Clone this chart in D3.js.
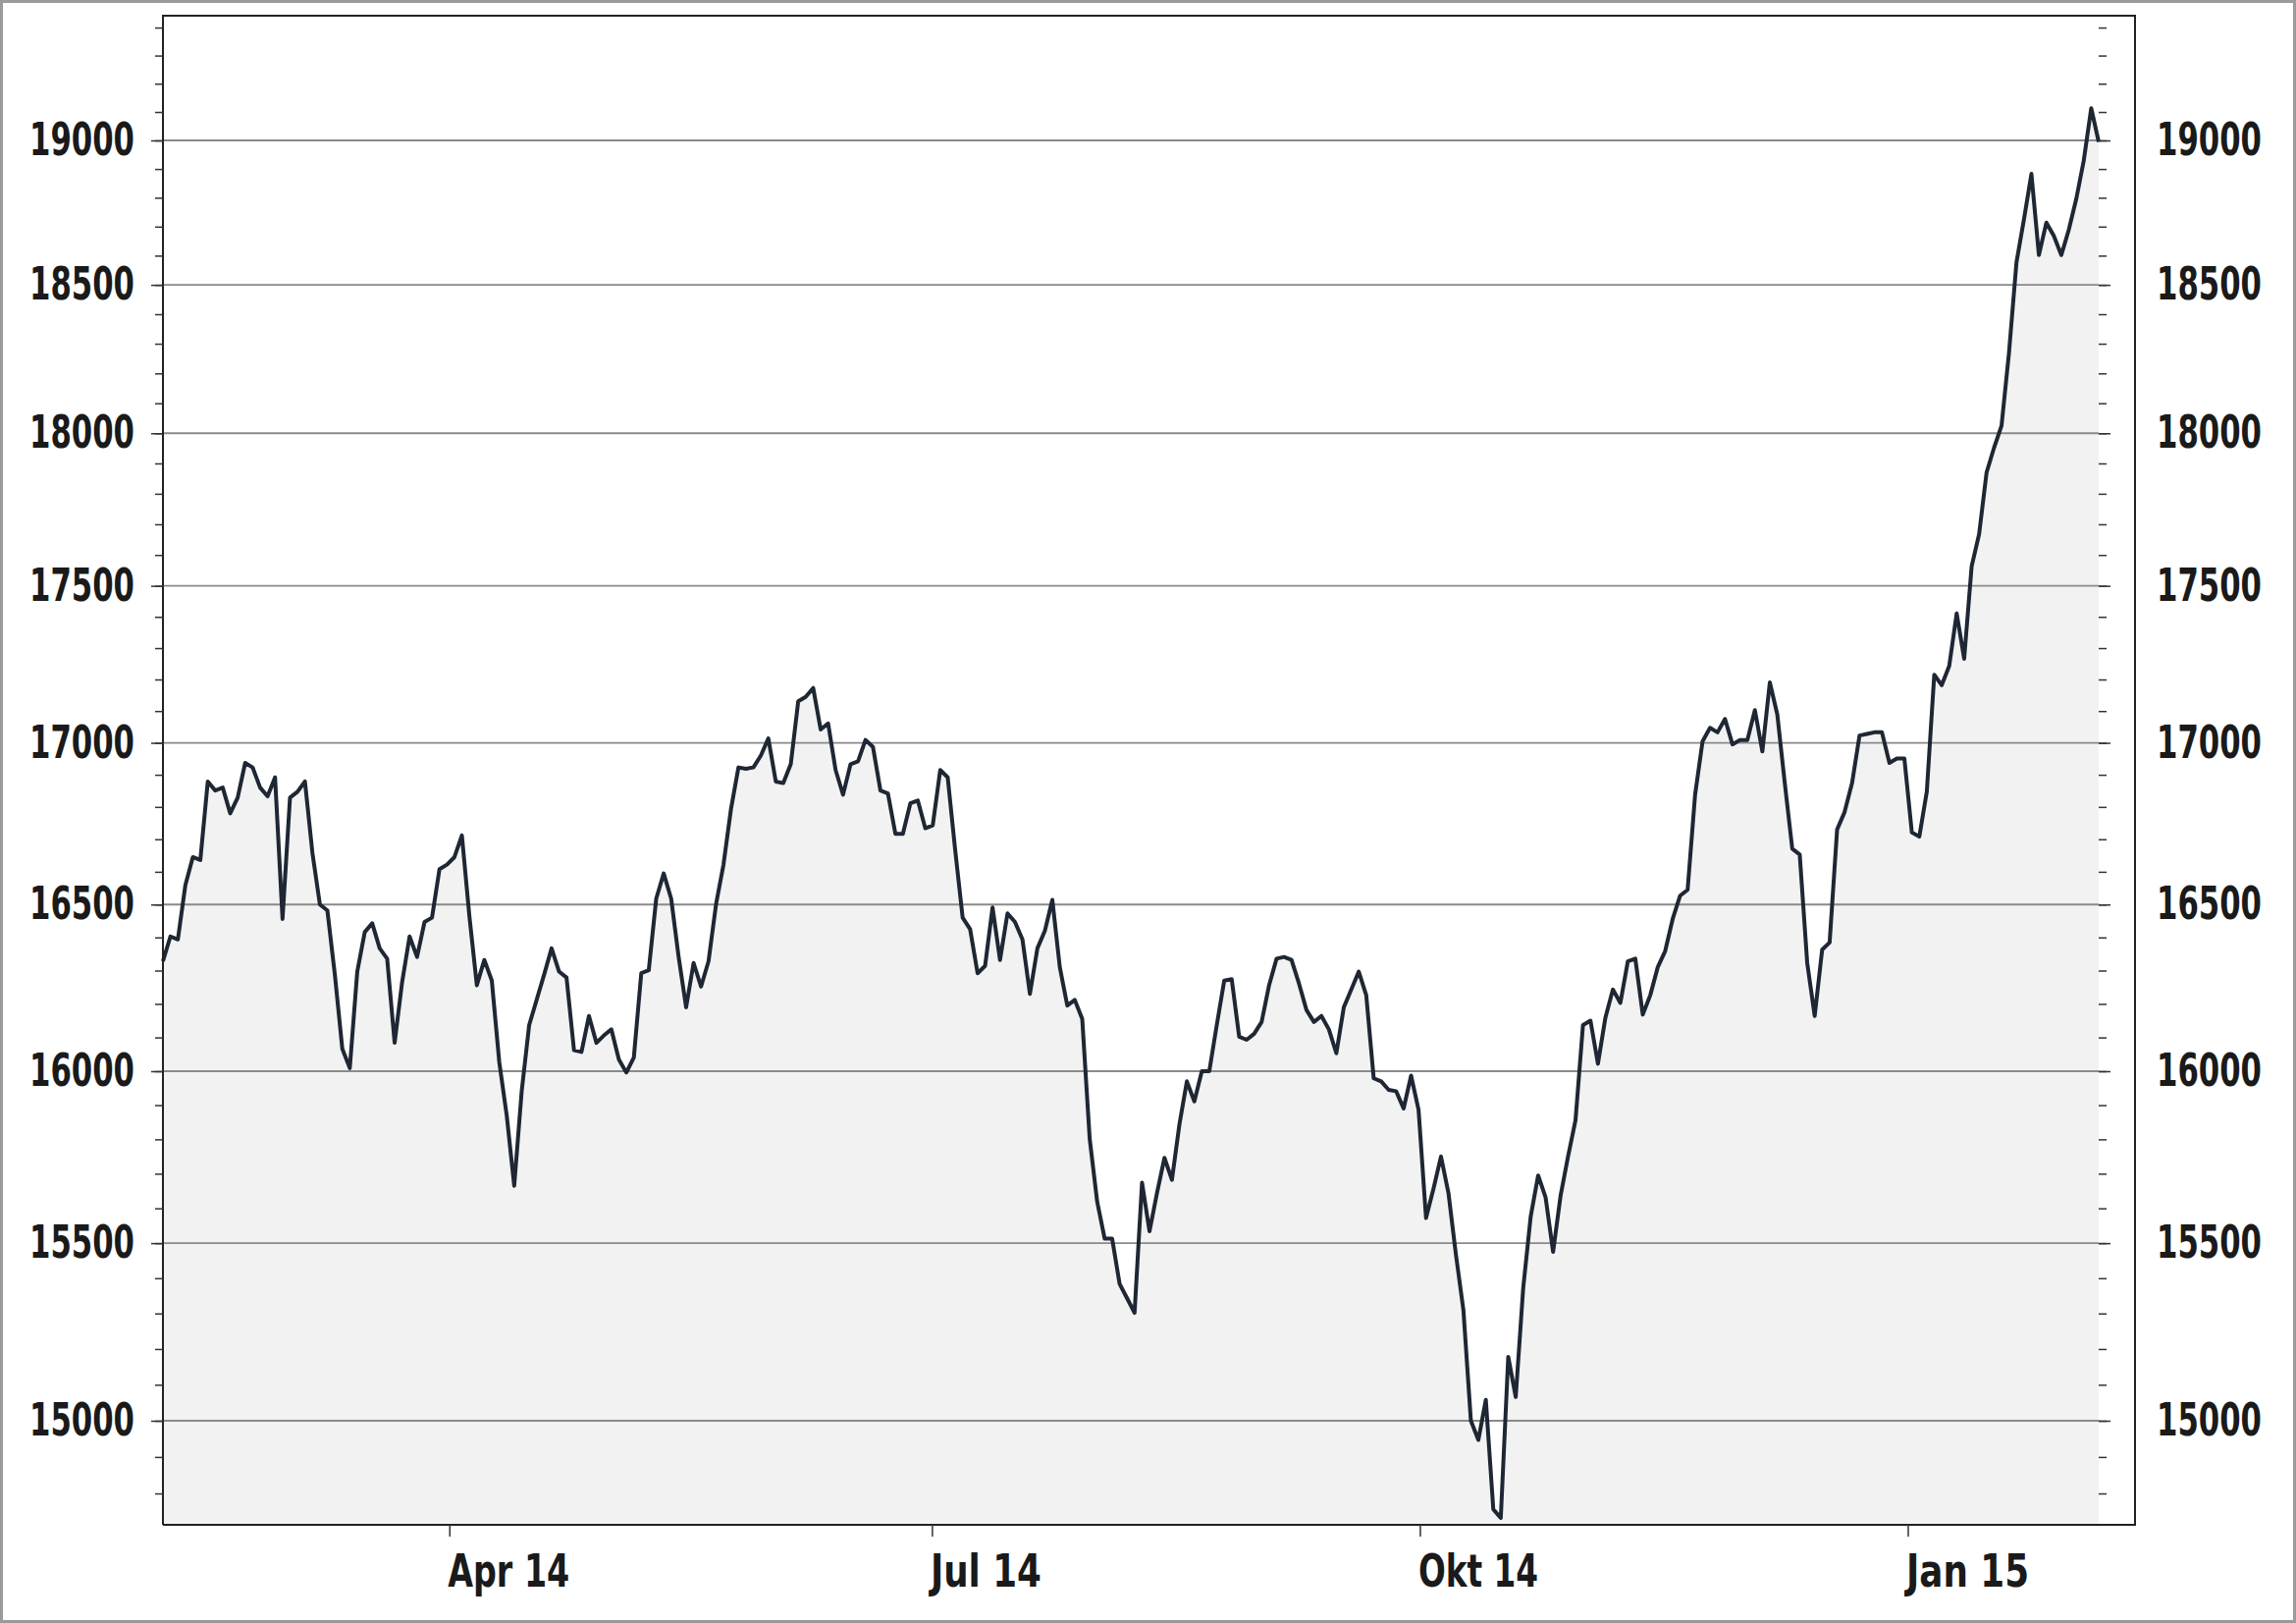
<!DOCTYPE html>
<html>
<head>
<meta charset="utf-8">
<script src="https://cdn.jsdelivr.net/npm/d3@7"></script>
<style>
  body { margin: 0; background: #fff; }
  svg text { font-family: "DejaVu Sans Condensed", "Liberation Sans", sans-serif; font-weight: bold; fill: #1a1a1a; }
</style>
</head>
<body>
<div id="chart-area"></div>
<script>
// index closes, one per trading day, 6 Feb 2014 .. 6 Feb 2015
var values = [16328,16403,16394,16559,16645,16636,16879,16851,16860,16780,16829,16937,16923,16860,16833,16892,16456,16829,16847,16879,
16658,16500,16482,16288,16066,16009,16297,16416,16443,16367,16336,16084,16265,16403,16341,16447,16460,16608,16622,16645,
16712,16465,16256,16332,16270,16027,15869,15665,15941,16137,16212,16288,16367,16297,16279,16062,16057,16164,16084,16106,
16124,16035,15996,16040,16292,16301,16518,16595,16518,16341,16190,16323,16252,16328,16500,16622,16793,16923,16919,16923,
16960,17014,16879,16874,16933,17131,17145,17173,17042,17061,16915,16838,16933,16942,17009,16987,16851,16842,16717,16717,
16811,16820,16734,16743,16915,16892,16667,16460,16425,16292,16314,16491,16332,16473,16447,16394,16230,16367,16420,16514,
16310,16195,16212,16155,15801,15619,15513,15513,15384,15343,15302,15674,15534,15644,15746,15682,15843,15970,15911,16000,
16000,16137,16270,16274,16102,16093,16111,16146,16256,16336,16341,16332,16261,16182,16146,16164,16124,16053,16190,16243,
16297,16226,15979,15970,15945,15941,15890,15987,15886,15572,15657,15750,15644,15467,15310,15000,14947,15058,14757,14733,
15178,15066,15372,15576,15695,15631,15475,15636,15750,15856,16137,16150,16022,16159,16243,16203,16328,16336,16168,16226,
16310,16359,16456,16527,16545,16838,17005,17047,17033,17075,16995,17009,17009,17103,16973,17191,17089,16874,16671,16653,
16323,16164,16363,16385,16730,16784,16874,17023,17028,17033,17033,16937,16951,16951,16721,16708,16847,17215,17182,17243,
17411,17266,17563,17668,17870,17952,18025,18270,18577,18725,18883,18602,18714,18668,18602,18689,18796,18929,19113,18995];

var majorTicks = [15000,15500,16000,16500,17000,17500,18000,18500,19000];
var xTickDates = ["2014-04-01","2014-07-01","2014-10-01","2015-01-01"];
var xTickLabels = ["Apr 14","Jul 14","Okt 14","Jan 15"];
var xLabelWidths = [124,113,122,125];

var parse = d3.timeParse("%Y-%m-%d");

var W = 2339, H = 1653;
var margin = { top: 16, left: 166, right: 201, bottom: 100 };
var plotRight = W - margin.right;  // right axis
var frameRight = 2175;
var bottom = H - margin.bottom;

var svg = d3.select("#chart-area").append("svg").attr("width", W).attr("height", H);

svg.append("rect").attr("x", 1.5).attr("y", 1.5).attr("width", W - 3).attr("height", H - 3)
	.attr("fill", "#fff").attr("stroke", "#9a9a9a").attr("stroke-width", 3);

var x = d3.scaleTime().domain([parse("2014-02-06"), parse("2015-02-06")]).range([margin.left, plotRight]);
var xi = d3.scaleLinear().domain([0, values.length - 1]).range([margin.left, plotRight]);
var y = d3.scaleLog().domain([15000, 19000]).range([1447, 143]);

var minor = d3.range(14700, 19500, 100).filter(function(v) { return y(v) >= margin.top && y(v) <= bottom; });

var area = d3.area().x(function(d, i) { return xi(i); }).y0(bottom).y1(function(d) { return y(d); });
var line = d3.line().x(function(d, i) { return xi(i); }).y(function(d) { return y(d); });
svg.append("path").datum(values).attr("d", area).attr("fill", "#f2f2f2");

// gridlines
svg.append("g").selectAll("line").data(majorTicks).enter().append("line")
	.attr("x1", margin.left).attr("x2", plotRight)
	.attr("y1", function(d) { return y(d); }).attr("y2", function(d) { return y(d); })
	.attr("stroke", "#8a8a8a").attr("stroke-width", 1.8);

svg.append("path").datum(values).attr("d", line).attr("fill", "none")
	.attr("stroke", "#1e2733").attr("stroke-width", 4).attr("stroke-linejoin", "round");

// frame
svg.append("path")
	.attr("d", "M" + margin.left + "," + bottom + "V" + margin.top + "H" + frameRight + "V" + bottom + "H" + margin.left)
	.attr("fill", "none").attr("stroke", "#222").attr("stroke-width", 2);

function styleAxis(g) { g.select(".domain").remove(); g.selectAll("line").attr("stroke", "#333").attr("stroke-width", 1.5); }
function styleLabels(sel) {
	sel.attr("font-size", 46).attr("textLength", 107).attr("lengthAdjust", "spacingAndGlyphs");
}

// left axis
svg.append("g").attr("transform", "translate(" + margin.left + ",0)")
	.call(d3.axisLeft(y).tickValues(minor).tickSize(8).tickFormat("")).call(styleAxis);
svg.append("g").attr("transform", "translate(" + margin.left + ",0)")
	.call(d3.axisLeft(y).tickValues(majorTicks).tickSize(12).tickPadding(17).tickFormat(d3.format("d")))
	.call(styleAxis)
	.selectAll("text").call(styleLabels);

// right axis
svg.append("g").attr("transform", "translate(" + plotRight + ",0)")
	.call(d3.axisRight(y).tickValues(minor).tickSize(8).tickFormat("")).call(styleAxis);
svg.append("g").attr("transform", "translate(" + plotRight + ",0)")
	.call(d3.axisRight(y).tickValues(majorTicks).tickSize(12).tickPadding(47).tickFormat(d3.format("d")))
	.call(styleAxis)
	.selectAll("text").call(styleLabels);

// x axis
var xa = svg.append("g").attr("transform", "translate(0," + bottom + ")")
	.call(d3.axisBottom(x).tickValues(xTickDates.map(parse)).tickSize(12)
		.tickFormat(function(d, i) { return xTickLabels[i]; }))
	.call(styleAxis);
xa.selectAll("text").attr("font-size", 46).attr("text-anchor", "start").attr("dy", "1.05em").attr("dx", -2)
	.attr("textLength", function(d, i) { return xLabelWidths[i]; }).attr("lengthAdjust", "spacingAndGlyphs");
</script>
</body>
</html>
